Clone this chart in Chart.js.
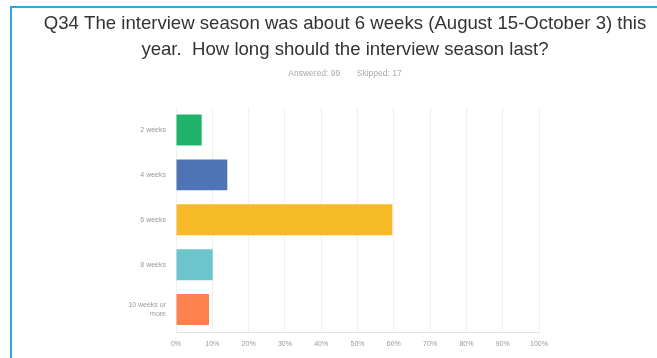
<!DOCTYPE html>
<html>
<head>
<meta charset="utf-8">
<script src="https://cdn.jsdelivr.net/npm/chart.js@4/dist/chart.umd.min.js"></script>
<style>
	html, body { margin: 0; padding: 0; background: #fff; overflow: hidden; }
	#frame {
		position: absolute; left: 0; top: 0; width: 657px; height: 358px; overflow: hidden;
	}
	#edge {
		position: absolute; left: 10px; top: 6px; right: -10px; bottom: -10px;
		border-left: 2px solid #2aa8e4; border-top: 2px solid #2aa8e4;
	}
	#wrap { position: absolute; left: 0; top: 0; width: 690px; height: 358px; }
</style>
</head>
<body>
<div id="frame">
	<div id="edge"></div>
	<div id="wrap"><canvas id="chart" width="690" height="358"></canvas></div>
</div>
<script>
const titleLines = [
	'Q34 The interview season was about 6 weeks (August 15-October 3) this',
	'year.  How long should the interview season last?'
];
const subtitleText = 'Answered: 99       Skipped: 17';
const categories = ['2 weeks', '4 weeks', '6 weeks', '8 weeks', ['10 weeks or', 'more']];
const percentages = [7.07, 14.14, 59.60, 10.10, 9.09];
const barColors = ['#21b36b', '#4f74b5', '#f6ba26', '#6cc5cc', '#fe8250'];
const tickSteps = [0, 10, 20, 30, 40, 50, 60, 70, 80, 90, 100];

const ctx = document.getElementById('chart').getContext('2d');
const chart = new Chart(ctx, {
	type: 'bar',
	data: {
		labels: categories,
		datasets: [{
			data: percentages,
			backgroundColor: barColors,
			borderWidth: 0,
			categoryPercentage: 0.69,
			barPercentage: 1
		}]
	},
	options: {
		indexAxis: 'y',
		responsive: false,
		animation: false,
		plugins: {
			legend: { display: false },
			tooltip: { enabled: false },
			title: {
				display: true,
				text: titleLines,
				color: '#333',
				font: { family: 'Liberation Sans, Arial, sans-serif', size: 18.6, weight: 'normal', lineHeight: 1.38 },
				padding: { top: 11, bottom: 6 }
			},
			subtitle: {
				display: true,
				text: subtitleText,
				color: '#a8a8a8',
				font: { family: 'Liberation Sans, Arial, sans-serif', size: 8.5 },
				padding: { top: 0, bottom: 29 }
			}
		},
		scales: {
			x: {
				min: 0,
				max: 100,
				afterBuildTicks: function (scale) {
					scale.ticks = tickSteps.map(v => ({ value: v }));
				},
				afterFit: function (scale) {
					scale.height = 26;
				},
				ticks: {
					color: '#999',
					font: { family: 'Liberation Sans, Arial, sans-serif', size: 7 },
					padding: 8,
					maxRotation: 0,
					callback: v => v + '%'
				},
				grid: { color: '#efefef', drawTicks: false },
				border: { color: '#e4e4e4' }
			},
			y: {
				afterFit: function (scale) {
					scale.width = 176;
				},
				ticks: {
					color: '#999',
					font: { family: 'Liberation Sans, Arial, sans-serif', size: 7 },
					padding: 10
				},
				grid: { display: false, drawTicks: false },
				border: { color: '#efefef' }
			},
			// empty right-hand axis, only reserves the blank space after 100%
			spacer: {
				type: 'linear',
				axis: 'y',
				position: 'right',
				ticks: { display: false },
				grid: { display: false, drawTicks: false },
				border: { display: false },
				afterFit: function (scale) {
					scale.width = 151;
				}
			}
		}
	}
});
</script>
</body>
</html>
